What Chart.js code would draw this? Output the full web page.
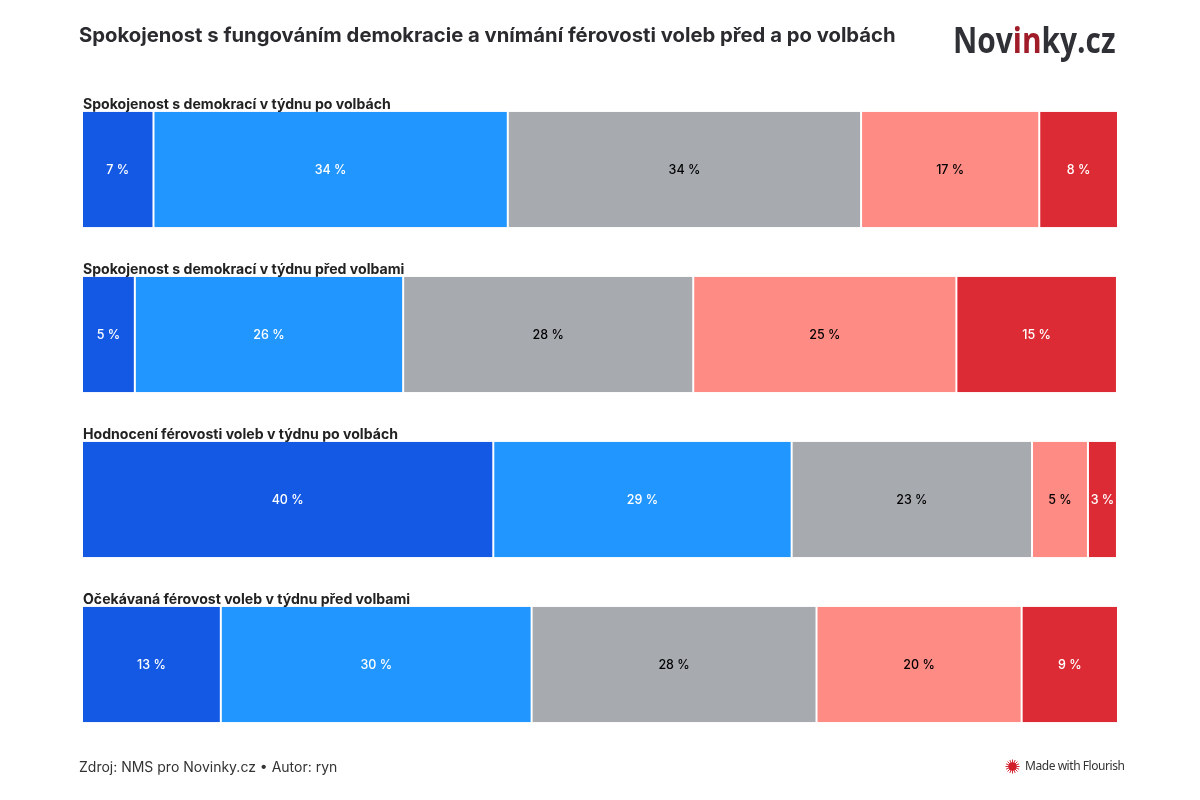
<!DOCTYPE html>
<html lang="cs">
<head>
<meta charset="UTF-8">
<title>Spokojenost s fungováním demokracie</title>
<script src="https://cdn.jsdelivr.net/npm/chart.js"></script>
<style>
    html, body { margin: 0; background: #fff; }
    #wrap { position: relative; width: 1200px; height: 800px; overflow: hidden; font-family: Inter, sans-serif; }
    #chart { position: absolute; left: 0; top: 0; }
    h1 { position: absolute; left: 79px; top: 21px; margin: 0; font-size: 20.25px; line-height: 28px; font-weight: 700; color: #2b2b2f; white-space: nowrap; }
    #logo { position: absolute; left: 953px; top: 17px; font-family: "Open Sans", sans-serif; font-size: 36px; line-height: 46px; font-weight: 700; color: #2f3136; transform: scaleX(0.83); transform-origin: left center; }
    #logo span { color: #a01c28; }
    #source { position: absolute; left: 79px; top: 758px; font-size: 14px; line-height: 18px; color: #333; }
    #flourish { position: absolute; left: 1005px; top: 757px; font-family: "Noto Sans", sans-serif; font-size: 12px; line-height: 18px; color: #333; display: flex; align-items: center; gap: 5px; letter-spacing: -0.45px; }
</style>
</head>
<body>
<div id="wrap">
    <canvas id="chart" width="1200" height="800"></canvas>
    <h1>Spokojenost s fungováním demokracie a vnímání férovosti voleb před a po volbách</h1>
    <div id="logo">Nov<span>in</span>ky.cz</div>
    <div id="source">Zdroj: NMS pro Novinky.cz • Autor: ryn</div>
    <div id="flourish">
        <svg width="15" height="15" viewBox="-8 -8 16 16">
            <circle r="4.5" fill="#d2202c"></circle>
            <path id="rays" stroke="#d2202c" stroke-width="1" fill="none"></path>
        </svg>
        <span>Made with Flourish</span>
    </div>
</div>
<script>
// hodnoty, popisky jsou zaokrouhlené
const categories = [
    'Spokojenost s demokrací v týdnu po volbách',
    'Spokojenost s demokrací v týdnu před volbami',
    'Hodnocení férovosti voleb v týdnu po volbách',
    'Očekávaná férovost voleb v týdnu před volbami'
];
const seg1 = [6.9, 5.1, 39.7, 13.4];
const seg2 = [34.2, 25.9, 28.8, 30.0];
const seg3 = [34.1, 28.0, 23.2, 27.5];
const seg4 = [17.2, 25.4, 5.4, 19.8];
const seg5 = [7.6, 15.5, 2.8, 9.3];
const labels1 = [7, 5, 40, 13];
const labels2 = [34, 26, 29, 30];
const labels3 = [34, 28, 23, 28];
const labels4 = [17, 25, 5, 20];
const labels5 = [8, 15, 3, 9];

const allValues = [seg1, seg2, seg3, seg4, seg5];
const allLabels = [labels1, labels2, labels3, labels4, labels5];
const colors = ['#1459e3', '#2196ff', '#a7abb0', '#ff8b85', '#dd2b35'];
const textColors = ['#fff', '#fff', '#000', '#000', '#fff'];

// paprsky loga Flourish
let rays = '';
for (let i = 0; i < 16; i++) {
    const a = i * Math.PI / 8;
    rays += 'M0 0L' + (7.5 * Math.cos(a)).toFixed(2) + ' ' + (7.5 * Math.sin(a)).toFixed(2);
}
document.getElementById('rays').setAttribute('d', rays);

const textPlugin = {
    id: 'textPlugin',
    afterDatasetsDraw(chart) {
        const ctx = chart.ctx;
        ctx.save();
        chart.data.datasets.forEach(function (ds, i) {
            chart.getDatasetMeta(i).data.forEach(function (bar, j) {
                ctx.font = '500 12.5px Inter';
                ctx.fillStyle = textColors[i];
                ctx.textAlign = 'center';
                ctx.textBaseline = 'middle';
                ctx.fillText(allLabels[i][j] + ' %', (bar.x + bar.base) / 2, bar.y + 0.5);
            });
        });
        // nadpisy řádků nad pruhy
        const first = chart.getDatasetMeta(0).data;
        categories.forEach(function (name, j) {
            ctx.font = '700 14.1px Inter';
            ctx.fillStyle = '#222';
            ctx.textAlign = 'left';
            ctx.textBaseline = 'alphabetic';
            ctx.fillText(name, chart.chartArea.left + 1, first[j].y - first[j].height / 2 - 3);
        });
        ctx.restore();
    }
};

new Chart(document.getElementById('chart'), {
    type: 'bar',
    data: {
        labels: categories,
        datasets: allValues.map(function (values, i) {
            return {
                data: values,
                backgroundColor: colors[i],
                borderColor: '#fff',
                borderWidth: { left: 1, right: 1, top: 0, bottom: 0 },
                borderSkipped: false,
                categoryPercentage: 1,
                barPercentage: 115.5 / 165
            };
        })
    },
    options: {
        indexAxis: 'y',
        responsive: false,
        animation: false,
        layout: { padding: { left: 82, right: 82, top: 87, bottom: 53 } },
        scales: {
            x: { display: false, stacked: true, min: 0, max: 100 },
            y: { display: false, stacked: true }
        },
        plugins: { legend: { display: false }, tooltip: { enabled: false } }
    },
    plugins: [textPlugin]
});
</script>
</body>
</html>
